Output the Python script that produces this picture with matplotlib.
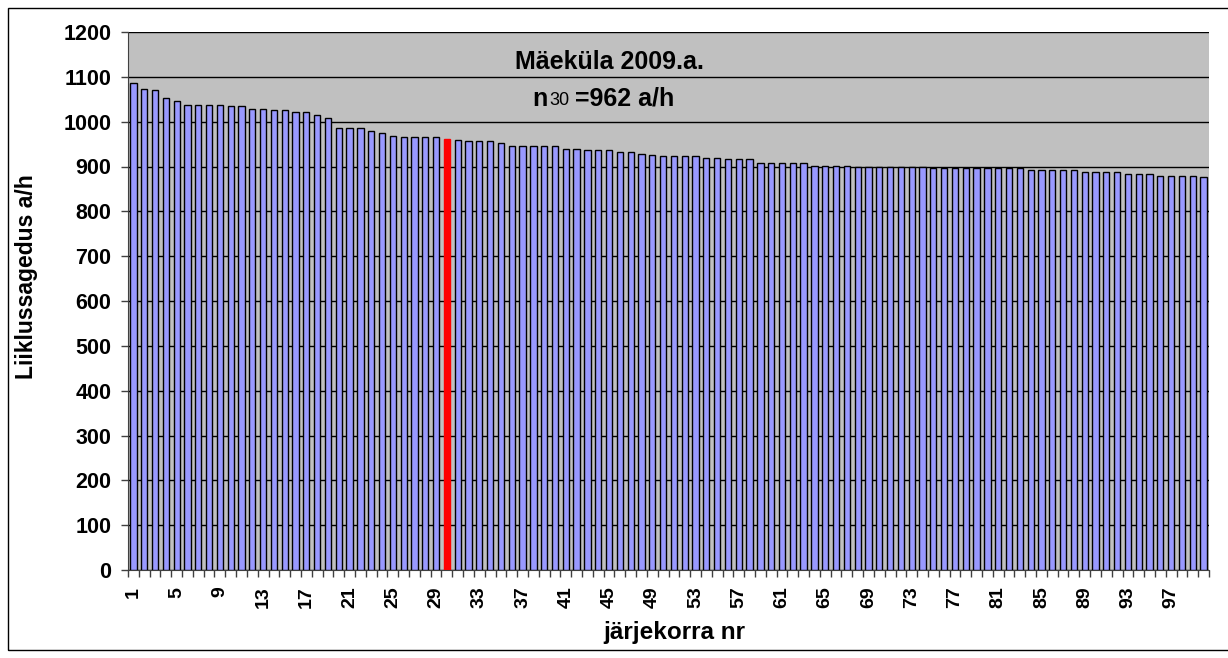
import numpy as np
import matplotlib
matplotlib.use('Agg')
import matplotlib.pyplot as plt
from matplotlib.ticker import FixedLocator

plt.rcParams['font.family'] = ['Liberation Sans', 'DejaVu Sans']

# tunnid järjekorras (1..100) ja liiklussagedus a/h
jrk = list(range(1, 101))
sagedus = [
    1086, 1073, 1071, 1053, 1046, 1038, 1038, 1038, 1038, 1034,
    1034, 1029, 1029, 1025, 1025, 1022, 1022, 1014, 1008, 985,
    985, 985, 980, 974, 969, 966, 966, 966, 966, 962,
    960, 956, 956, 956, 952, 946, 946, 946, 946, 946,
    940, 940, 937, 937, 937, 933, 933, 928, 925, 924,
    924, 924, 924, 920, 920, 916, 916, 916, 907, 907,
    907, 907, 907, 902, 902, 902, 902, 900, 900, 900,
    900, 900, 900, 900, 896, 896, 896, 896, 896, 896,
    896, 896, 896, 892, 892, 892, 892, 892, 887, 887,
    887, 887, 884, 884, 884, 879, 879, 879, 879, 876,
]
punane_nr = 30
pealkiri = "Mäeküla 2009.a."
n30_tekst = "=962 a/h"
x_sildid = list(range(1, 101, 4))

fig = plt.figure(figsize=(12.28, 6.58), dpi=100)
ax = fig.add_axes([128 / 1228, 1 - 570 / 658, 1081 / 1228, 538 / 658])
ax.set_facecolor('#C0C0C0')

colors = ['#FF0000' if n == punane_nr else '#9999FF' for n in jrk]
edges = ['#FF0000' if n == punane_nr else 'black' for n in jrk]
ax.bar(jrk, sagedus, width=0.58, color=colors, edgecolor=edges, linewidth=1.0, zorder=3)

ax.set_xlim(0.5, 100.5)
ax.set_ylim(0, 1200)
ax.set_yticks(range(0, 1201, 100))
ax.yaxis.grid(True, color='black', linewidth=1.0, zorder=0)
ax.set_axisbelow(True)

ax.xaxis.set_major_locator(FixedLocator(x_sildid))
ax.set_xticklabels([str(v) for v in x_sildid], rotation=90, fontweight='bold', fontsize=14)
ax.xaxis.set_minor_locator(FixedLocator(np.arange(0.5, 101, 1)))
ax.tick_params(axis='x', which='major', length=0, pad=12)
ax.tick_params(axis='x', which='minor', length=5, width=1, color='#404040')
ax.tick_params(axis='y', length=5, width=1, color='#404040', pad=7)
for lab in ax.get_yticklabels():
    lab.set_fontweight('bold')
    lab.set_fontsize(15.5)

for s in ['top', 'right']:
    ax.spines[s].set_visible(False)
ax.spines['left'].set_color('#404040')
ax.spines['bottom'].set_color('#404040')

ax.set_xlabel('järjekorra nr', fontweight='bold', fontsize=17.5)
ax.xaxis.set_label_coords(0.505, -0.117)
ax.xaxis.label.set_va('center')
ax.set_ylabel('Liiklussagedus a/h', fontweight='bold', fontsize=16.5)
ax.yaxis.set_label_coords(-0.094, 0.546)
ax.yaxis.label.set_va('center')

ax.text(0.445, 1117, pealkiri, transform=ax.get_yaxis_transform(),
        ha='center', va='baseline', fontsize=18, fontweight='bold', zorder=5)

t_n = ax.text(0.3737, 1035, "n", transform=ax.get_yaxis_transform(),
              ha='left', va='baseline', fontsize=18, fontweight='bold', zorder=5)
t_30 = ax.annotate("30", xy=(1, 0), xycoords=t_n, xytext=(1.5, 1.5),
                   textcoords='offset points', ha='left', va='bottom',
                   fontsize=13, fontweight='medium', zorder=5)
ax.annotate(n30_tekst, xy=(1, 0), xycoords=t_30, xytext=(4, -1.5),
            textcoords='offset points', ha='left', va='bottom',
            fontsize=18, fontweight='bold', zorder=5)

# välimine raam
fig.patches.append(plt.Rectangle((8 / 1228, 8 / 658), 1.0, 1 - 16 / 658,
                                 transform=fig.transFigure, fill=False,
                                 edgecolor='black', linewidth=1.0))

fig.savefig('out.png', dpi=100)
